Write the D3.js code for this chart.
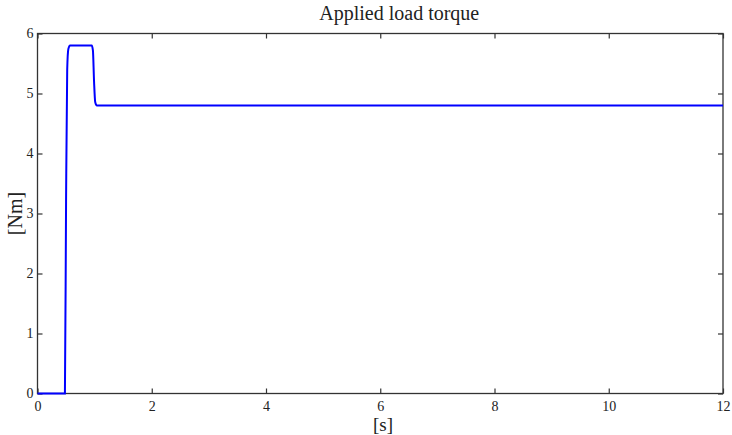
<!DOCTYPE html>
<html><head><meta charset="utf-8">
<script src="https://cdn.jsdelivr.net/npm/d3@7"></script>
<style>body{margin:0;background:#fff}svg{display:block}</style>
</head><body>
<svg id="c" width="732" height="435"></svg>
<script>
const title = "Applied load torque";
const xLabel = "[s]";
const yLabel = "[Nm]";
const xTicks = [0,2,4,6,8,10,12];
const yTicks = [0,1,2,3,4,5,6];
const timeS = [0, 0.48, 0.5, 0.52, 0.54, 0.57, 0.62, 0.95, 0.97, 0.99, 1.01, 1.04, 1.08, 12];
const torqueNm = [0, 0, 3.2, 5.4, 5.74, 5.8, 5.8, 5.8, 5.72, 5.2, 4.86, 4.8, 4.8, 4.8];

const svg = d3.select("#c");
const m = {l:37.5, r:723, t:33.5, b:393.5};
const x = d3.scaleLinear().domain([0,12]).range([m.l, m.r]);
const y = d3.scaleLinear().domain([0,6]).range([m.b, m.t]);
const axisColor = "#333";
const fontFam = "'Liberation Serif', 'DejaVu Serif', serif";

const g = svg.append("g");
g.append("rect").attr("x", m.l).attr("y", m.t).attr("width", m.r-m.l).attr("height", m.b-m.t)
  .attr("fill","none").attr("stroke",axisColor).attr("stroke-width",1.3);

const tl = 5;
const styleAxis = sel => {
  sel.attr("font-family", null).attr("font-size", null);
  sel.select(".domain").remove();
  sel.selectAll("line").attr("stroke",axisColor).attr("stroke-width",1.2);
  sel.selectAll("text").style("font-family", fontFam).style("font-size","14px").attr("fill","#222");
};
g.append("g").attr("transform",`translate(0,${m.b})`)
  .call(d3.axisBottom(x).tickValues(xTicks).tickFormat(d3.format("d")).tickSizeInner(-tl).tickPadding(8))
  .call(styleAxis);
g.append("g").attr("transform",`translate(0,${m.t})`)
  .call(d3.axisTop(x).tickValues(xTicks).tickFormat("").tickSizeInner(-tl))
  .call(styleAxis);
g.append("g").attr("transform",`translate(${m.l},0)`)
  .call(d3.axisLeft(y).tickValues(yTicks).tickFormat(d3.format("d")).tickSizeInner(-tl).tickPadding(4))
  .call(styleAxis);
g.append("g").attr("transform",`translate(${m.r},0)`)
  .call(d3.axisRight(y).tickValues(yTicks).tickFormat("").tickSizeInner(-tl))
  .call(styleAxis);

const data = timeS.map((t,i)=>[t, torqueNm[i]]);
svg.append("path").datum(data)
  .attr("d", d3.line().x(d=>x(d[0])).y(d=>y(d[1])).curve(d3.curveMonotoneX))
  .attr("fill","none").attr("stroke","#0000ff").attr("stroke-width",2);

const label = (s) => s.style("font-family", fontFam).attr("fill","#222");
svg.append("text").attr("x",(m.l+m.r)/2 + 19).attr("y",20).attr("text-anchor","middle").style("font-size","20px").text(title).call(label);
svg.append("text").attr("x",383).attr("y",431).attr("text-anchor","middle").style("font-size","19px").text(xLabel).call(label);
svg.append("text").attr("transform",`translate(22,${(m.t+m.b)/2}) rotate(-90)`).attr("text-anchor","middle").style("font-size","20px").text(yLabel).call(label);
</script>
</body></html>
